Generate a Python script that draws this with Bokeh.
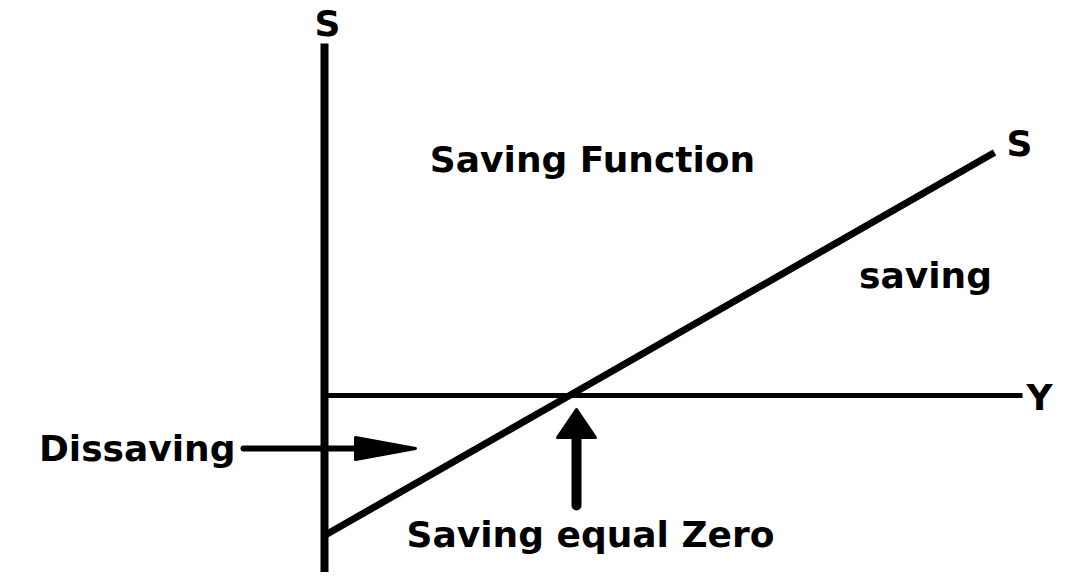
from bokeh.plotting import figure
from bokeh.models import Range1d, ColumnDataSource
from bokeh.core.properties import value
from bokeh.embed import file_html
from bokeh.resources import INLINE

# ---- data (income Y on x, saving S on y) ----
income = [0.0, 24.5, 67.0]
saving = [-14.0, 0.0, 24.3]

# axis extents
s_axis_x = [0.0, 0.0]
s_axis_y = [-18.6, 35.2]
y_axis_x = [0.0, 69.8]
y_axis_y = [0.0, 0.0]

# arrows: tail, tip, head length, head width
dis_tail = [-8.1, -5.3]
dis_tip = [9.1, -5.3]
dis_head = [6.0, 2.2]
zero_tail = [25.2, -11.0]
zero_tip = [25.2, -1.4]
zero_head = [2.8, 3.8]

# labels
label_text = ["S", "S", "Y", "Saving Function", "saving", "Saving equal Zero"]
label_x = [0.3, 69.5, 71.5, 26.8, 60.1, 26.6]
label_y = [37.2, 25.2, -0.2, 23.6, 12.0, -13.9]
dis_label = ["Dissaving"]
dis_label_x = [-8.9]  # right edge of text
dis_label_y = [-5.25]

FONT = value("DejaVu Sans")

p = figure(width=1057, height=572, x_range=Range1d(-32.4, 73.3),
           y_range=Range1d(-17.7, 39.5), x_axis_type=None, y_axis_type=None,
           output_backend="svg", toolbar_location=None, min_border=0)
p.outline_line_color = None
p.grid.visible = False
p.background_fill_color = "white"
p.border_fill_color = "white"

# axes
p.line(s_axis_x, s_axis_y, line_color="black", line_width=8)
p.line(y_axis_x, y_axis_y, line_color="black", line_width=5)

# saving function line
p.line(income, saving, line_color="black", line_width=7)


def arrow(tail, tip, head, shaft_w, cap):
    dx, dy = tip[0] - tail[0], tip[1] - tail[1]
    n = (dx * dx + dy * dy) ** 0.5
    ux, uy = dx / n, dy / n
    bx, by = tip[0] - head[0] * ux, tip[1] - head[0] * uy
    px, py = -uy * head[1] / 2, ux * head[1] / 2
    p.line([tail[0], bx], [tail[1], by], line_color="black",
           line_width=shaft_w, line_cap=cap)
    p.patch([bx + px, tip[0], bx - px], [by + py, tip[1], by - py],
            fill_color="black", line_color="black", line_width=3,
            line_join="round")


arrow(dis_tail, dis_tip, dis_head, 6, "round")
arrow(zero_tail, zero_tip, zero_head, 10, "round")

src = ColumnDataSource(dict(x=label_x, y=label_y, t=label_text))
p.text(x="x", y="y", text="t", source=src, text_font=FONT,
       text_font_style="bold", text_font_size="36px", text_align="center",
       text_baseline="alphabetic", text_color="black")
p.text(x=dis_label_x, y=dis_label_y, text=dis_label, text_font=FONT,
       text_font_style="bold", text_font_size="36px", text_align="right",
       text_baseline="alphabetic", text_color="black")

open("out.html", "w").write(file_html(p, INLINE))
